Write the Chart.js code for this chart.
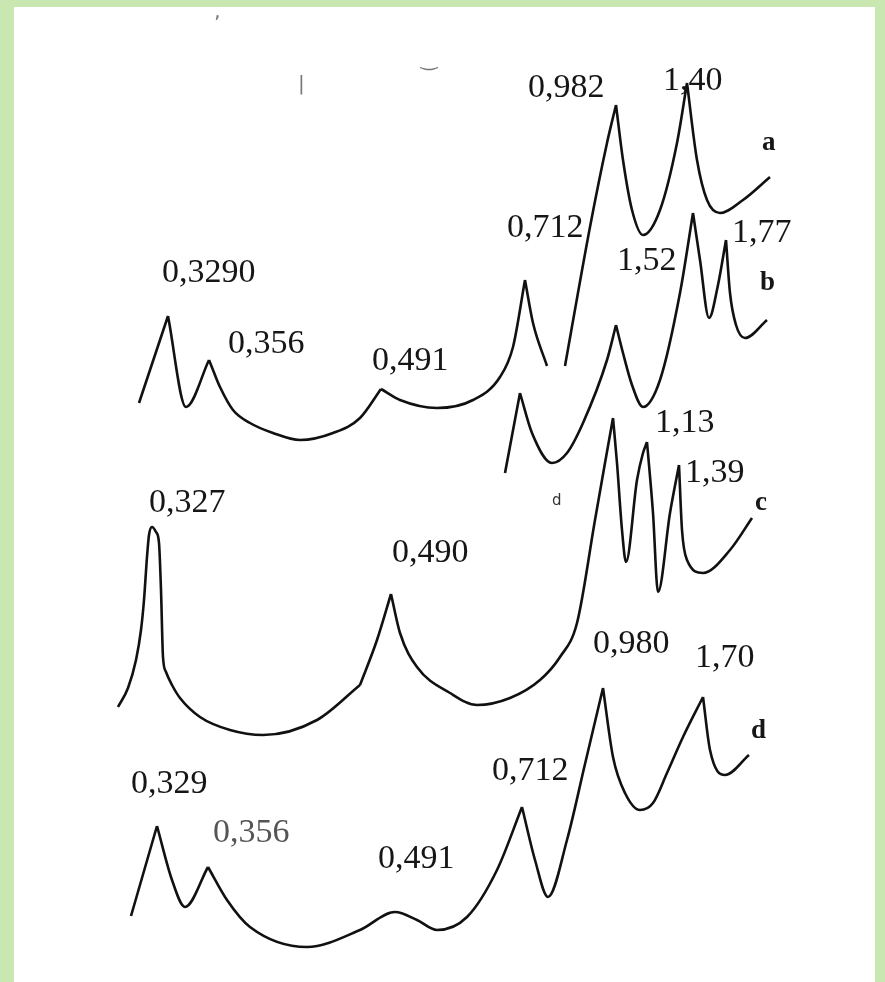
<!DOCTYPE html>
<html lang="en">
<head>
    <meta charset="UTF-8">
    <title>Diffractograms a-d</title>
    <script src="https://cdn.jsdelivr.net/npm/chart.js"></script>
    <style>
        body {
            margin: 0;
            background: #c9e7b1;
            width: 885px;
            height: 982px;
            overflow: hidden;
            position: relative;
        }

        .sheet {
            position: absolute;
            left: 14px;
            top: 7px;
            width: 861px;
            height: 975px;
            background: #fff;
        }

        canvas {
            position: absolute;
            left: 0;
            top: 0;
        }
    </style>
</head>
<body>
    <div class="sheet"></div>
    <canvas id="traces" width="885" height="982"></canvas>

    <script>
        // trace a (top): position along the scan and signal height
        const aPos = [139, 168, 186, 209, 213, 220, 233, 250, 273, 300, 333, 360, 381, 400, 437, 473, 500, 513, 525, 533, 547,
                      565, 590, 607, 616, 623, 632, 643, 660, 677, 687, 697, 707, 720, 743, 770];
        const aVal = [579, 666, 575, 622, 612, 595, 572, 559, 549, 542, 549, 564, 593, 582, 574, 582, 605, 635, 702, 659, 616,
                      616, 755, 839, 877, 822, 772, 747, 772, 839, 899, 822, 782, 769, 782, 805];
        const aPeaks = [168, 209, 381, 525, 616, 687];
        const aGaps = [547];

        // trace b
        const bPos = [505, 520, 532, 552, 567, 583, 607, 616, 623, 632, 643, 660, 680, 693, 700, 709, 718, 726, 730, 736, 745, 767];
        const bVal = [509, 589, 549, 519, 529, 559, 622, 657, 629, 597, 575, 602, 689, 769, 722, 664, 697, 742, 689, 657, 644, 662];
        const bPeaks = [520, 616, 693, 726];

        // trace c
        const cPos = [118, 128, 136, 141, 144, 147, 149, 152, 156, 159, 161, 163, 166, 172, 180, 200, 230, 263, 317, 360,
                      377, 391, 400, 417, 450, 477, 510, 540, 560, 577, 595, 605, 613, 617, 622, 626, 637, 643, 647,
                      653, 658, 670, 679, 682, 687, 703, 730, 752];
        const cVal = [275, 294, 322, 352, 382, 425, 447, 455, 450, 439, 392, 325, 310, 297, 284, 265, 252, 247, 262, 297,
                      342, 388, 349, 315, 289, 277, 284, 302, 325, 359, 462, 519, 564, 519, 452, 420, 502, 529, 540,
                      469, 390, 469, 517, 452, 422, 409, 432, 464];
        const cPeaks = [360, 391, 613, 647, 679];

        // trace d (bottom)
        const dPos = [131, 157, 172, 185, 208, 227, 250, 307, 360, 395, 417, 437, 467, 497, 522, 535, 548, 567, 585,
                      603, 613, 625, 640, 653, 667, 683, 703, 710, 725, 749];
        const dVal = [66, 156, 102, 75, 115, 82, 55, 35, 52, 70, 62, 52, 65, 112, 175, 122, 85, 142, 218,
                      294, 225, 189, 172, 179, 209, 245, 285, 232, 207, 227];
        const dPeaks = [157, 208, 522, 603, 703];

        // d-spacing labels: text, position, height of baseline
        const peakText = ['1,40', '0,982', '0,712', '1,52', '1,77', '0,3290', '0,356', '0,491',
                          '0,327', '0,490', '1,13', '1,39', '0,980', '1,70', '0,712', '0,329', '0,356', '0,491'];
        const peakTextPos = [663, 528, 507, 617, 732, 162, 228, 372,
                             149, 392, 655, 685, 593, 695, 492, 131, 213, 378];
        const peakTextVal = [892, 885, 745, 712, 740, 700, 629, 612,
                             470, 420, 550, 500, 329, 315, 202, 189, 140, 114];

        const traceNames = ['a', 'b', 'c', 'd'];
        const traceNamePos = [762, 760, 755, 751];
        const traceNameVal = [832, 692, 472, 244];

        // specks of the scan at the top of the sheet
        const speckText = ['\u201A', '\u203F', '|'];
        const speckPos = [214, 421, 298];
        const speckVal = [964, 916, 892];

        // build a point list; peaks become cusps by breaking the line there
        function buildTrace(pos, val, peaks, gaps = []) {
            const pts = [];
            pos.forEach((x, i) => {
                pts.push({ x: x, y: val[i] });
                if (gaps.includes(x)) {
                    pts.push({ x: x, y: null });
                } else if (peaks.includes(x) && i > 0 && i < pos.length - 1) {
                    pts.push({ x: x, y: null });
                    pts.push({ x: x, y: val[i] });
                }
            });
            return pts;
        }

        const labelPlugin = {
            id: 'peakLabels',
            afterDatasetsDraw(chart) {
                const ctx = chart.ctx;
                const xs = chart.scales.x;
                const ys = chart.scales.y;
                ctx.save();
                ctx.textAlign = 'left';
                ctx.textBaseline = 'alphabetic';
                ctx.font = '34px "Liberation Serif", serif';
                peakText.forEach((t, i) => {
                    ctx.fillStyle = i === 16 ? '#555' : '#161616';
                    ctx.fillText(t, xs.getPixelForValue(peakTextPos[i]), ys.getPixelForValue(peakTextVal[i]));
                });
                ctx.fillStyle = '#161616';
                ctx.font = 'bold 27px "Liberation Serif", serif';
                traceNames.forEach((t, i) => {
                    ctx.fillText(t, xs.getPixelForValue(traceNamePos[i]), ys.getPixelForValue(traceNameVal[i]));
                });
                // small stray letter in the middle of the figure
                ctx.font = '15px "DejaVu Sans", sans-serif';
                ctx.fillStyle = '#333';
                ctx.fillText('d', xs.getPixelForValue(552), ys.getPixelForValue(477));
                ctx.font = '20px "DejaVu Sans", sans-serif';
                ctx.fillStyle = '#777';
                speckText.forEach((t, i) => {
                    ctx.fillText(t, xs.getPixelForValue(speckPos[i]), ys.getPixelForValue(speckVal[i]));
                });
                ctx.restore();
            }
        };

        const lineStyle = {
            borderColor: '#111',
            borderWidth: 2.6,
            pointRadius: 0,
            fill: false,
            cubicInterpolationMode: 'monotone'
        };

        new Chart(document.getElementById('traces'), {
            type: 'line',
            data: {
                datasets: [
                    { label: 'a', data: buildTrace(aPos, aVal, aPeaks, aGaps), ...lineStyle },
                    { label: 'b', data: buildTrace(bPos, bVal, bPeaks), ...lineStyle },
                    { label: 'c', data: buildTrace(cPos, cVal, cPeaks), ...lineStyle },
                    { label: 'd', data: buildTrace(dPos, dVal, dPeaks), ...lineStyle }
                ]
            },
            options: {
                responsive: false,
                animation: false,
                events: [],
                layout: { padding: 0 },
                plugins: {
                    legend: { display: false },
                    tooltip: { enabled: false }
                },
                scales: {
                    x: { type: 'linear', min: 0, max: 885, display: false },
                    y: { type: 'linear', min: 0, max: 982, display: false }
                }
            },
            plugins: [labelPlugin]
        });
    </script>
</body>
</html>
